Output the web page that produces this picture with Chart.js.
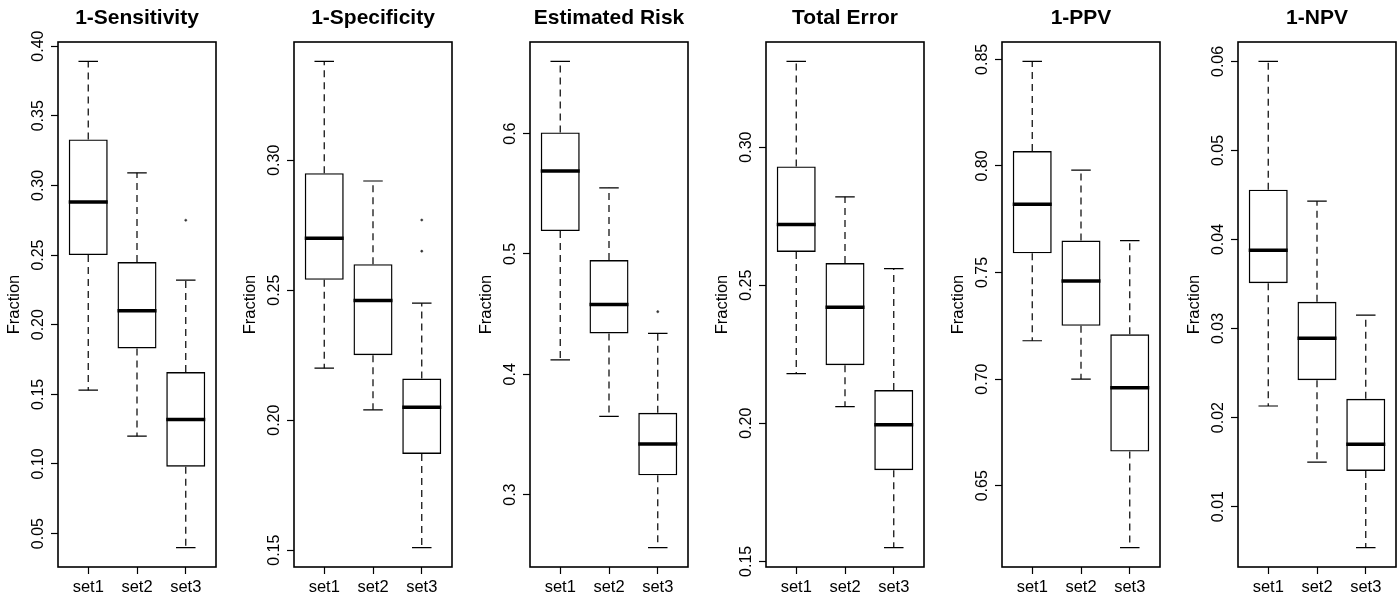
<!DOCTYPE html>
<html>
<head>
<meta charset="utf-8">
<script src="https://cdn.jsdelivr.net/npm/chart.js@4/dist/chart.umd.min.js"></script>
<style>
  html, body { margin: 0; padding: 0; background: #fff; overflow: hidden; }
  #wrap { position: relative; width: 1400px; height: 599px; }
  .panel { position: absolute; top: 0; width: 236px; height: 599px; }
</style>
</head>
<body>
<div id="wrap"></div>
<script>
const sets = ['set1', 'set2', 'set3'];
const titles = ['1-Sensitivity', '1-Specificity', 'Estimated Risk', 'Total Error', '1-PPV', '1-NPV'];
const tickSteps = [0.05, 0.05, 0.1, 0.05, 0.05, 0.01];
const tickDigits = [2, 2, 1, 2, 2, 2];

// 1-Sensitivity
const sensLo  = [0.153, 0.120, 0.040];
const sensQ1  = [0.250, 0.183, 0.098];
const sensMed = [0.288, 0.210, 0.132];
const sensQ3  = [0.333, 0.245, 0.166];
const sensHi  = [0.389, 0.309, 0.232];
const sensOut = [[], [], [0.275]];

// 1-Specificity
const specLo  = [0.220, 0.204, 0.151];
const specQ1  = [0.254, 0.225, 0.187];
const specMed = [0.270, 0.246, 0.205];
const specQ3  = [0.295, 0.260, 0.216];
const specHi  = [0.338, 0.292, 0.245];
const specOut = [[], [], [0.277, 0.265]];

// Estimated Risk
const riskLo  = [0.412, 0.365, 0.256];
const riskQ1  = [0.519, 0.434, 0.316];
const riskMed = [0.569, 0.458, 0.342];
const riskQ3  = [0.601, 0.495, 0.368];
const riskHi  = [0.660, 0.555, 0.434];
const riskOut = [[], [], [0.452]];

// Total Error
const errLo  = [0.218, 0.206, 0.155];
const errQ1  = [0.262, 0.221, 0.183];
const errMed = [0.272, 0.242, 0.1995];
const errQ3  = [0.293, 0.258, 0.212];
const errHi  = [0.331, 0.282, 0.256];
const errOut = [[], [], []];

// 1-PPV
const ppvLo  = [0.718, 0.700, 0.621];
const ppvQ1  = [0.759, 0.725, 0.666];
const ppvMed = [0.782, 0.746, 0.696];
const ppvQ3  = [0.807, 0.765, 0.721];
const ppvHi  = [0.849, 0.798, 0.765];
const ppvOut = [[], [], []];

// 1-NPV
const npvLo  = [0.0213, 0.0150, 0.0054];
const npvQ1  = [0.0351, 0.0242, 0.0140];
const npvMed = [0.0388, 0.0289, 0.0170];
const npvQ3  = [0.0456, 0.0330, 0.0221];
const npvHi  = [0.0600, 0.0443, 0.0315];
const npvOut = [[], [], []];

const stats = [
  { lo: sensLo, q1: sensQ1, med: sensMed, q3: sensQ3, hi: sensHi, out: sensOut },
  { lo: specLo, q1: specQ1, med: specMed, q3: specQ3, hi: specHi, out: specOut },
  { lo: riskLo, q1: riskQ1, med: riskMed, q3: riskQ3, hi: riskHi, out: riskOut },
  { lo: errLo,  q1: errQ1,  med: errMed,  q3: errQ3,  hi: errHi,  out: errOut },
  { lo: ppvLo,  q1: ppvQ1,  med: ppvMed,  q3: ppvQ3,  hi: ppvHi,  out: ppvOut },
  { lo: npvLo,  q1: npvQ1,  med: npvMed,  q3: npvQ3,  hi: npvHi,  out: npvOut },
];

Chart.defaults.font.family = '"Liberation Sans", Arial, sans-serif';
Chart.defaults.color = '#000';

// whiskers, staples, medians and the frame round the plot, like R's bxp
const boxExtras = {
  id: 'boxExtras',
  afterDatasetsDraw(chart, args, opts) {
    const { ctx, chartArea, scales: { x, y } } = chart;
    const s = opts.stats;
    ctx.save();
    ctx.strokeStyle = '#000';
    ctx.lineCap = 'butt';
    s.lo.forEach((lo, i) => {
      const cx = x.getPixelForValue(i + 1);
      const staple = x.getPixelForValue(i + 1.2) - cx;
      const half = x.getPixelForValue(i + 1.4) - cx;

      ctx.lineWidth = 1.2;
      ctx.setLineDash([7, 5]);
      ctx.beginPath();
      ctx.moveTo(cx, y.getPixelForValue(s.q3[i]));
      ctx.lineTo(cx, y.getPixelForValue(s.hi[i]));
      ctx.moveTo(cx, y.getPixelForValue(s.q1[i]));
      ctx.lineTo(cx, y.getPixelForValue(lo));
      ctx.stroke();

      ctx.setLineDash([]);
      ctx.beginPath();
      [s.hi[i], lo].forEach(v => {
        const py = y.getPixelForValue(v);
        ctx.moveTo(cx - staple, py);
        ctx.lineTo(cx + staple, py);
      });
      ctx.stroke();

      ctx.lineWidth = 3.5;
      ctx.beginPath();
      const my = y.getPixelForValue(s.med[i]);
      ctx.moveTo(cx - half, my);
      ctx.lineTo(cx + half, my);
      ctx.stroke();
    });
    ctx.lineWidth = 1.6;
    ctx.strokeRect(chartArea.left, chartArea.top, chartArea.width, chartArea.height);
    ctx.restore();
  }
};

const wrap = document.getElementById('wrap');

stats.forEach((s, p) => {
  const div = document.createElement('div');
  div.className = 'panel';
  div.style.left = (236 * p) + 'px';
  const canvas = document.createElement('canvas');
  canvas.width = 236;
  canvas.height = 599;
  div.appendChild(canvas);
  wrap.appendChild(div);

  // R extends the data range by 4% on each side
  const all = s.lo.concat(s.hi, ...s.out);
  const dMin = Math.min(...all), dMax = Math.max(...all);
  const ext = (dMax - dMin) * 0.04;

  const outliers = [];
  s.out.forEach((vals, i) => vals.forEach(v => outliers.push({ x: i + 1, y: v })));

  new Chart(canvas, {
    type: 'bar',
    data: {
      datasets: [{
        data: sets.map((name, i) => ({ x: i + 1, y: [s.q1[i], s.q3[i]] })),
        backgroundColor: 'rgba(255,255,255,0)',
        borderColor: '#000',
        borderWidth: 1.4,
        borderSkipped: false,
        categoryPercentage: 1,
        barPercentage: 0.8,
      }, {
        type: 'scatter',
        data: outliers,
        pointRadius: 1.1,
        pointBackgroundColor: '#333',
        pointBorderColor: '#333',
        pointBorderWidth: 0.5,
      }]
    },
    options: {
      responsive: false,
      animation: false,
      devicePixelRatio: 1,
      layout: { padding: { left: 0, right: 20, top: 0, bottom: 0 } },
      plugins: {
        legend: { display: false },
        tooltip: { enabled: false },
        title: {
          display: true,
          text: titles[p],
          fullSize: false,
          color: '#000',
          font: { size: 21, weight: 'bold' },
          padding: { top: 6, bottom: 10.8 },
        },
        boxExtras: { stats: s },
      },
      scales: {
        x: {
          type: 'linear',
          min: 0.38,
          max: 3.62,
          offset: false,
          afterFit: scale => { scale.height = 32; },
          afterBuildTicks: scale => { scale.ticks = sets.map((n, i) => ({ value: i + 1 })); },
          ticks: {
            autoSkip: false,
            maxRotation: 0,
            padding: 4,
            color: '#000',
            font: { size: 16.5 },
            callback: v => sets[v - 1],
          },
          grid: { offset: false, drawOnChartArea: false, drawTicks: true, tickLength: 7, tickColor: '#000', tickWidth: 1.2 },
          border: { display: false },
        },
        y: {
          type: 'linear',
          min: dMin - ext,
          max: dMax + ext,
          afterFit: scale => { scale.width = 58; },
          ticks: {
            stepSize: tickSteps[p],
            includeBounds: false,
            autoSkip: false,
            minRotation: 90,
            maxRotation: 90,
            crossAlign: 'center',
            padding: tickDigits[p] === 2 ? -3.5 : 0.9,
            color: '#000',
            font: { size: 16 },
            callback: v => v.toFixed(tickDigits[p]),
          },
          grid: { drawOnChartArea: false, drawTicks: true, tickLength: 7, tickColor: '#000', tickWidth: 1.2 },
          border: { display: false },
          title: {
            display: true,
            text: 'Fraction',
            color: '#000',
            font: { size: 16.5 },
            padding: { top: 5, bottom: 0 },
          },
        },
      },
    },
    plugins: [boxExtras],
  });
});
</script>
</body>
</html>
